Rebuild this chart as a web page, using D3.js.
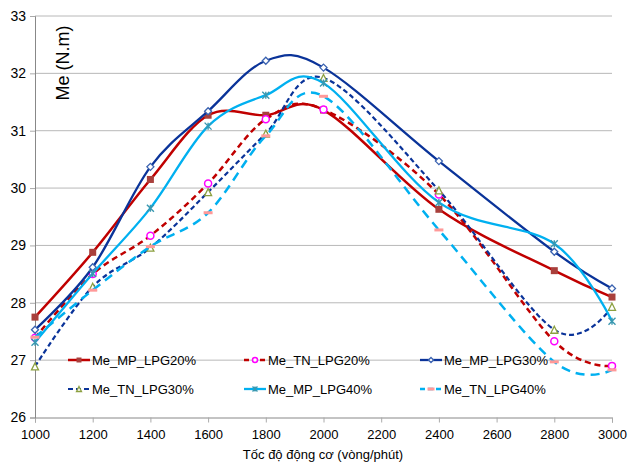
<!DOCTYPE html>
<html>
<head>
<meta charset="utf-8">
<script src="https://d3js.org/d3.v7.js"></script>
<style>
    body { margin: 0; background: #fff; }
    svg { font-family: "Liberation Sans", Arial, sans-serif; }
    .tick text { font-size: 13px; fill: #000; }
</style>
</head>
<body>
<svg width="628" height="463"></svg>
<script>
    // speeds (vong/phut)
    var speeds = [1000, 1200, 1400, 1600, 1800, 2000, 2400, 2800, 3000];

    var mpLPG20 = [27.75, 28.88, 30.15, 31.27, 31.27, 31.36, 29.63, 28.56, 28.10];
    var tnLPG20 = [27.39, 28.50, 29.17, 30.08, 31.20, 31.37, 29.89, 27.33, 26.90];
    var mpLPG30 = [27.53, 28.62, 30.37, 31.34, 32.22, 32.10, 30.47, 28.89, 28.25];
    var tnLPG30 = [26.89, 28.28, 28.96, 29.93, 30.95, 31.92, 29.96, 27.53, 27.93];
    var mpLPG40 = [27.31, 28.51, 29.65, 31.08, 31.62, 31.83, 29.75, 29.03, 27.68];
    var tnLPG40 = [27.40, 28.22, 28.98, 29.57, 30.91, 31.60, 29.27, 26.97, 26.83];

    var xTicks = [1000, 1200, 1400, 1600, 1800, 2000, 2200, 2400, 2600, 2800, 3000];
    var yTicks = [26, 27, 28, 29, 30, 31, 32, 33];

    var seriesNames = ["Me_MP_LPG20%", "Me_TN_LPG20%", "Me_MP_LPG30%", "Me_TN_LPG30%", "Me_MP_LPG40%", "Me_TN_LPG40%"];

    var styles = [
        {values: mpLPG20, color: "#c00000", width: 2.5, dash: null, marker: "square", mcolor: "#a9403c"},
        {values: tnLPG20, color: "#c00000", width: 2.5, dash: "6,4", marker: "circle", mcolor: "#ff00ff"},
        {values: mpLPG30, color: "#0a3399", width: 2.3, dash: null, marker: "diamond", mcolor: "#3a62b0"},
        {values: tnLPG30, color: "#0a3399", width: 2.2, dash: "5,3", marker: "triangle", mcolor: "#8ca040"},
        {values: mpLPG40, color: "#00b0f0", width: 2.3, dash: null, marker: "star", mcolor: "#3a98b0"},
        {values: tnLPG40, color: "#00b0f0", width: 2.5, dash: "9,6", marker: "dash", mcolor: "#ff9999"}
    ];

    var svg = d3.select("svg");
    var margin = {top: 16, left: 35},
        width = 577,
        height = 401.5;

    var g = svg.append("g").attr("transform", `translate(${margin.left}, ${margin.top})`);

    var x = d3.scaleLinear().domain([1000, 3000]).range([0, width]);
    var y = d3.scaleLinear().domain([26, 33]).range([height, 0]);

    // gridlines
    g.append("g").selectAll("line")
        .data(yTicks.slice(1))
        .join("line")
        .attr("x1", 0).attr("x2", width)
        .attr("y1", d => y(d)).attr("y2", d => y(d))
        .attr("stroke", "#b8b8b8").attr("stroke-width", 1);

    // axes
    var xAxis = g.append("g")
        .attr("transform", `translate(0, ${height})`)
        .call(d3.axisBottom(x).tickValues(xTicks).tickFormat(d3.format("d")).tickSize(5).tickPadding(7));
    var yAxis = g.append("g")
        .call(d3.axisLeft(y).tickValues(yTicks).tickFormat(d3.format("d")).tickSize(5).tickPadding(4));
    [xAxis, yAxis].forEach(function(a) {
        a.select(".domain").attr("stroke", "#888");
        a.selectAll(".tick line").attr("stroke", "#aaa");
    });
    yAxis.selectAll(".tick text").style("font-size", "14px");

    function drawMarker(sel, type, color, size) {
        var s = size;
        if (type == "square") {
            sel.append("rect").attr("x", -s/2).attr("y", -s/2).attr("width", s).attr("height", s)
                .attr("fill", color);
        } else if (type == "circle") {
            sel.append("circle").attr("r", s/2).attr("fill", "#fff")
                .attr("stroke", color).attr("stroke-width", 1.5);
        } else if (type == "diamond") {
            sel.append("path").attr("d", `M0,${-s/2}L${s/2},0L0,${s/2}L${-s/2},0Z`)
                .attr("fill", "#fff").attr("stroke", color).attr("stroke-width", 1.3);
        } else if (type == "triangle") {
            sel.append("path").attr("d", `M0,${-s/2}L${s/2},${s/2}L${-s/2},${s/2}Z`)
                .attr("fill", "#fff").attr("stroke", color).attr("stroke-width", 1.3);
        } else if (type == "star") {
            var r = s/2;
            sel.append("path")
                .attr("d", `M${-r},${-r}L${r},${r}M${-r},${r}L${r},${-r}M0,${-r}L0,${r}`)
                .attr("stroke", color).attr("stroke-width", 1.4).attr("fill", "none");
        } else if (type == "dash") {
            sel.append("rect").attr("x", -s/2 - 1).attr("y", -1.5).attr("width", s + 2).attr("height", 3)
                .attr("fill", color);
        }
    }

    var line = d3.line()
        .x(d => x(d[0]))
        .y(d => y(d[1]))
        .curve(d3.curveCardinal.tension(0));

    styles.forEach(function(st) {
        var pts = speeds.map((s, i) => [s, st.values[i]]);
        g.append("path")
            .datum(pts)
            .attr("fill", "none")
            .attr("stroke", st.color)
            .attr("stroke-width", st.width)
            .attr("stroke-dasharray", st.dash)
            .attr("d", line);
        pts.forEach(function(p) {
            var m = g.append("g").attr("transform", `translate(${x(p[0])}, ${y(p[1])})`);
            drawMarker(m, st.marker, st.mcolor, 7);
        });
    });

    // legend
    var legX = [68, 244, 420];
    var legY = [360, 389];
    seriesNames.forEach(function(name, i) {
        var st = styles[i];
        var lg = svg.append("g")
            .attr("transform", `translate(${legX[i % 3]}, ${legY[Math.floor(i / 3)]})`);
        lg.append("line")
            .attr("x1", 0).attr("x2", 22)
            .attr("stroke", st.color)
            .attr("stroke-width", st.width)
            .attr("stroke-dasharray", st.dash ? "5,3" : null);
        var m = lg.append("g").attr("transform", "translate(11,0)");
        drawMarker(m, st.marker, st.mcolor, 5);
        lg.append("text")
            .attr("x", 24).attr("y", 0).attr("dy", "0.35em")
            .style("font-size", "13px")
            .text(name);
    });

    // axis titles
    svg.append("text")
        .attr("x", 323).attr("y", 459)
        .attr("text-anchor", "middle")
        .style("font-size", "13px")
        .text("Tốc độ động cơ (vòng/phút)");

    svg.append("text")
        .attr("transform", "translate(69, 63) rotate(-90)")
        .attr("text-anchor", "middle")
        .style("font-size", "18px")
        .text("Me (N.m)");
</script>
</body>
</html>
